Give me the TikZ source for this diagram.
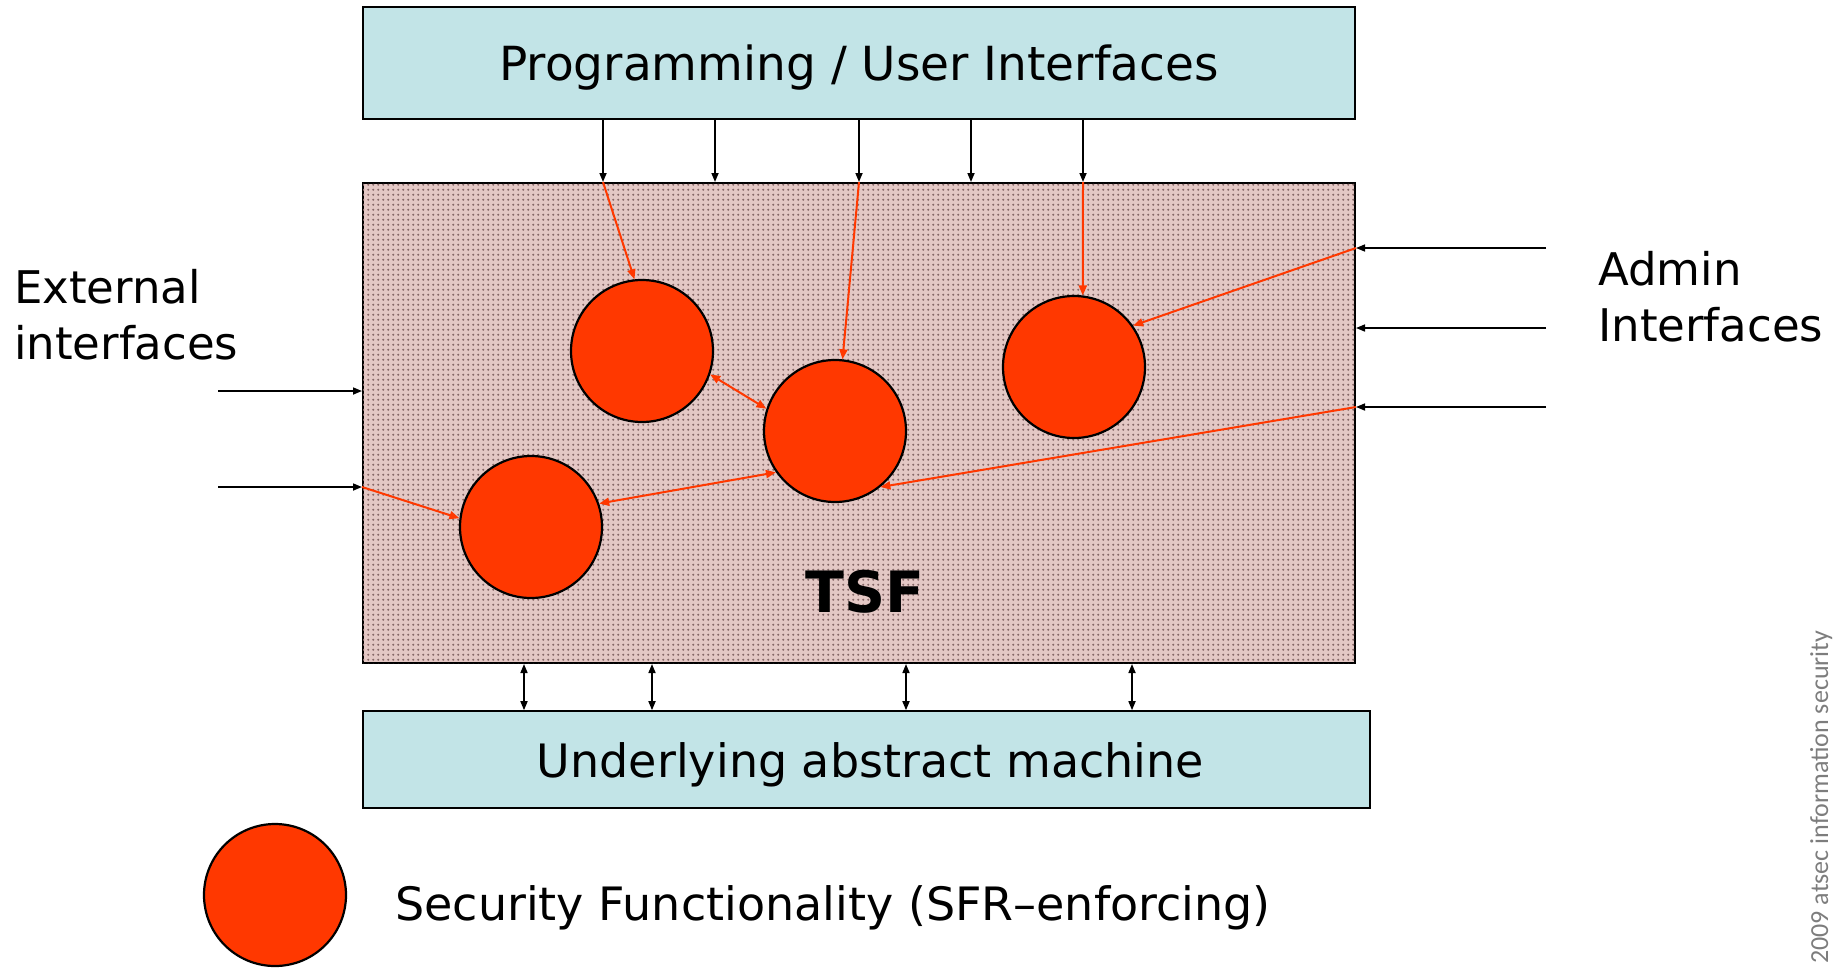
\documentclass[tikz,border=0pt]{standalone}
\usepackage{fontspec}
\setmainfont{DejaVu Sans}
\newfontfamily\notefont{Carlito}
\usetikzlibrary{arrows.meta,patterns}

\definecolor{boxblue}{RGB}{194,228,231}
\definecolor{sfred}{RGB}{255,56,0}
\definecolor{tsfbase}{RGB}{228,200,197}
\definecolor{tsfdot}{RGB}{135,104,104}
\definecolor{notegray}{RGB}{125,125,125}

% fine dot texture of the TSF area
\pgfdeclarepatternformonly{tsfdots}{\pgfqpoint{0pt}{0pt}}{\pgfqpoint{4.7pt}{4.7pt}}{\pgfqpoint{4.7pt}{4.7pt}}{%
  \pgfpathcircle{\pgfqpoint{2.35pt}{2.35pt}}{1.15pt}\pgfusepath{fill}}

\begin{document}
\begin{tikzpicture}[x=1pt,y=-1pt,
  iface/.style={draw=black, line width=1.6pt, fill=boxblue, inner sep=0pt,
    text height=35pt, text depth=0pt},
  sfcircle/.style={circle, draw=black, line width=2.2pt, fill=sfred,
    minimum size=142pt, inner sep=0pt},
  call/.style={line width=1.6pt, -{Triangle[length=9pt,width=7pt]}},
  both/.style={line width=1.6pt, {Triangle[length=9pt,width=7pt]}-{Triangle[length=9pt,width=7pt]}},
  flow/.style={sfred, line width=2pt, -{Triangle[length=10pt,width=8pt]}},
  flowboth/.style={sfred, line width=2pt, {Triangle[length=10pt,width=8pt]}-{Triangle[length=10pt,width=8pt]}},
  sidelabel/.style={font=\fontsize{45}{56}\selectfont, align=left, inner sep=0pt, anchor=west}
]
\useasboundingbox (0,0) rectangle (1841,967);

% main blocks
\node[iface, font=\fontsize{47}{55}\selectfont, minimum width=992pt, minimum height=112pt]
  (api) at (859,63) {Programming / User Interfaces};
\node[draw=black, line width=2pt, fill=tsfbase, minimum width=992pt, minimum height=480pt,
      postaction={pattern=tsfdots, pattern color=tsfdot}] (tsf) at (859,423) {};
\node[iface, font=\fontsize{46}{55}\selectfont, minimum width=1007pt, minimum height=97pt]
  (uam) at (866.5,759.5) {\hspace*{8pt}Underlying abstract machine};
\node[font=\bfseries\fontsize{57}{57}\selectfont] (tsflabel) at (865,592) {TSF};

% security functions
\node[sfcircle] (c1) at (642,351) {};
\node[sfcircle] (c2) at (835,431) {};
\node[sfcircle] (c3) at (1074,367) {};
\node[sfcircle] (c4) at (531,527) {};

% interface positions
\coordinate (t1) at (603,0);
\coordinate (t2) at (715,0);
\coordinate (t3) at (859,0);
\coordinate (t4) at (971,0);
\coordinate (t5) at (1083,0);
\coordinate (b1) at (524,0);
\coordinate (b2) at (652,0);
\coordinate (b3) at (906,0);
\coordinate (b4) at (1132,0);
\coordinate (l1) at (218,391);
\coordinate (l2) at (218,487);
\coordinate (r1) at (1546,248);
\coordinate (r2) at (1546,328);
\coordinate (r3) at (1546,407);

% programming / user interfaces into the TSF
\foreach \t in {t1,t2,t3,t4,t5}
  \draw[call] (api.south -| \t) -- (tsf.north -| \t);

% TSF <-> underlying machine
\foreach \b in {b1,b2,b3,b4}
  \draw[both] (tsf.south -| \b) -- (uam.north -| \b);

% external and admin interfaces
\draw[call] (l1) -- (tsf.west |- l1);
\draw[call] (l2) -- (tsf.west |- l2);
\draw[call] (r1) -- (tsf.east |- r1);
\draw[call] (r2) -- (tsf.east |- r2);
\draw[call] (r3) -- (tsf.east |- r3);

% internal flows to the security functions
\draw[flow] (tsf.north -| t1) -- (c1.96);
\draw[flow] (tsf.north -| t3) -- (c2.84);
\draw[flow] (tsf.north -| t5) -- (c3.83);
\draw[flow] (tsf.east |- r1) -- (c3.35);
\draw[flow] (tsf.east |- r3) -- (c2.-51);
\draw[flow] (tsf.west |- l2) -- (c4.173);
\draw[flowboth] (c1.-19) -- (c2.162);
\draw[flowboth] (c4.19) -- (c2.215);

% side labels
\node[sidelabel] (ext) at (14,315) {External\\interfaces};
\node[sidelabel] (adm) at (1598,297) {Admin\\Interfaces};

% legend
\node[sfcircle] (key) at (275,895) {};
\node[anchor=base west, inner sep=0pt, font=\fontsize{46}{55}\selectfont] (keytext) at (395,920)
  {Security Functionality (SFR–enforcing)};

% copyright line
\node[rotate=90, anchor=base west, inner sep=0pt, text=notegray, font=\notefont\fontsize{26}{26}\selectfont]
  (copy) at (1828,964) {2009 atsec information security};
\end{tikzpicture}
\end{document}
